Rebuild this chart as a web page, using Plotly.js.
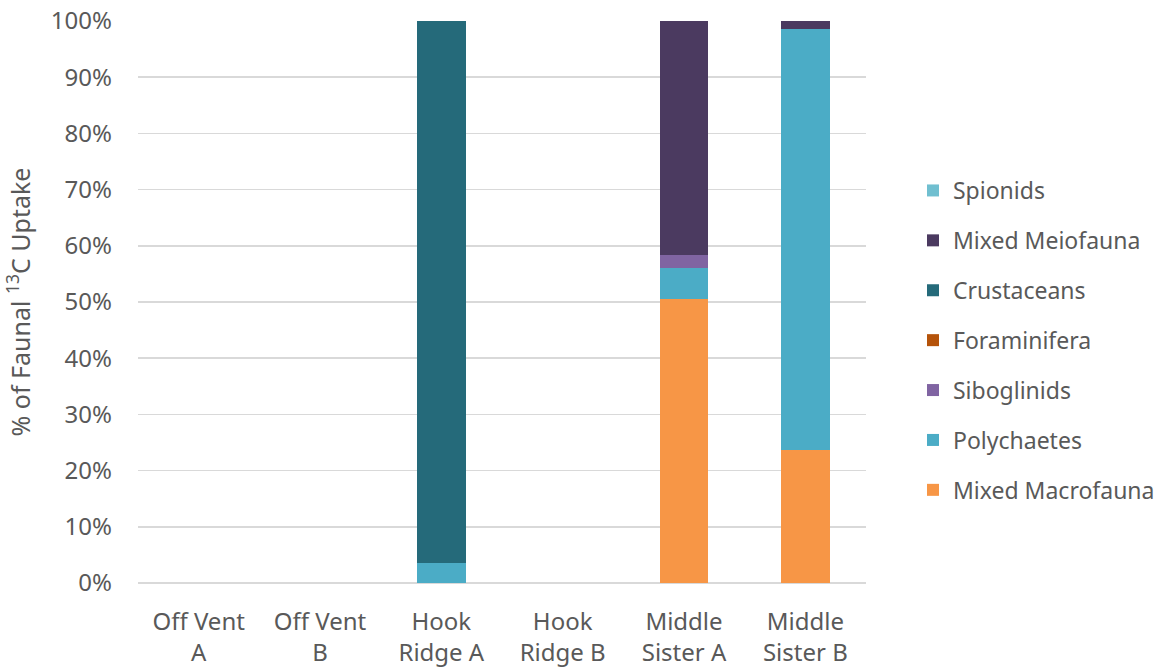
<!DOCTYPE html>
<html>
<head>
<meta charset="utf-8">
<script src="https://cdn.plot.ly/plotly-3.0.1.min.js"></script>
<style>
  html, body { margin: 0; padding: 0; background: #ffffff; }
  #chart { width: 1166px; height: 672px; }
</style>
</head>
<body>
<div id="chart"></div>
<script>
// Sites sampled (two-line tick labels)
const sites = ["Off Vent<br>A", "Off Vent<br>B", "Hook<br>Ridge A", "Hook<br>Ridge B", "Middle<br>Sister A", "Middle<br>Sister B"];

// Share of faunal 13C uptake per taxon (%), one value per site
const mixedMacrofauna = [0, 0, 0,    0, 50.5, 23.7];
const polychaetes     = [0, 0, 3.6,  0, 5.6,  74.8];
const siboglinids     = [0, 0, 0,    0, 2.3,  0];
const foraminifera    = [0, 0, 0,    0, 0,    0];
const crustaceans     = [0, 0, 96.4, 0, 0,    0];
const mixedMeiofauna  = [0, 0, 0,    0, 41.6, 1.5];
const spionids        = [0, 0, 0,    0, 0,    0];

// Stacking order, bottom to top
const seriesNames = ["Mixed Macrofauna", "Polychaetes", "Siboglinids", "Foraminifera", "Crustaceans", "Mixed Meiofauna", "Spionids"];
const seriesValues = [mixedMacrofauna, polychaetes, siboglinids, foraminifera, crustaceans, mixedMeiofauna, spionids];
const seriesColors = ["#F79646", "#4BACC6", "#8064A2", "#B5530A", "#256A7A", "#4B3A60", "#70BFD0"];

const fam = "'Noto Sans', 'Open Sans', sans-serif";
const grey = "#595959";

const traces = seriesNames.map((name, i) => ({
  type: "bar",
  name: name,
  x: sites,
  y: seriesValues[i],
  marker: { color: seriesColors[i], line: { width: 0 } },
  legendgroup: "g" + i,
  legendrank: seriesNames.length - i,   // top of the stack listed first
  hoverinfo: "name+y"
}));

const layout = {
  width: 1166,
  height: 672,
  margin: { l: 138, r: 300, t: 21, b: 89, autoexpand: false },
  paper_bgcolor: "#ffffff",
  plot_bgcolor: "#ffffff",
  barmode: "stack",
  bargap: 0.6,
  font: { family: fam, size: 21, color: grey },
  showlegend: true,
  legend: {
    xref: "container", yref: "container",
    x: 0.783, xanchor: "left",
    y: 1 - 337 / 672, yanchor: "middle",
    traceorder: "grouped",
    tracegroupgap: 17,
    font: { family: fam, size: 23, color: grey },
    itemwidth: 30
  },
  xaxis: {
    type: "category",
    showgrid: false,
    showline: false,
    ticks: "",
    ticklabelstandoff: 22,
    tickfont: { family: fam, size: 24, color: grey },
    automargin: false,
    fixedrange: true
  },
  yaxis: {
    range: [0, 100],
    tickvals: [0, 10, 20, 30, 40, 50, 60, 70, 80, 90, 100],
    ticktext: ["0%", "10%", "20%", "30%", "40%", "50%", "60%", "70%", "80%", "90%", "100%"],
    showgrid: true,
    gridcolor: "#D9D9D9",
    gridwidth: 1.5,
    zeroline: true,
    zerolinecolor: "#D9D9D9",
    zerolinewidth: 1.5,
    showline: false,
    ticks: "",
    ticklabelstandoff: 25,
    tickfont: { family: fam, size: 24, color: grey },
    automargin: true,
    title: {
      text: "% of Faunal <sup>13</sup>C Uptake",
      font: { family: fam, size: 25, color: grey },
      standoff: 14
    },
    fixedrange: true
  }
};

Plotly.newPlot("chart", traces, layout, { displayModeBar: false, staticPlot: true });
</script>
</body>
</html>
